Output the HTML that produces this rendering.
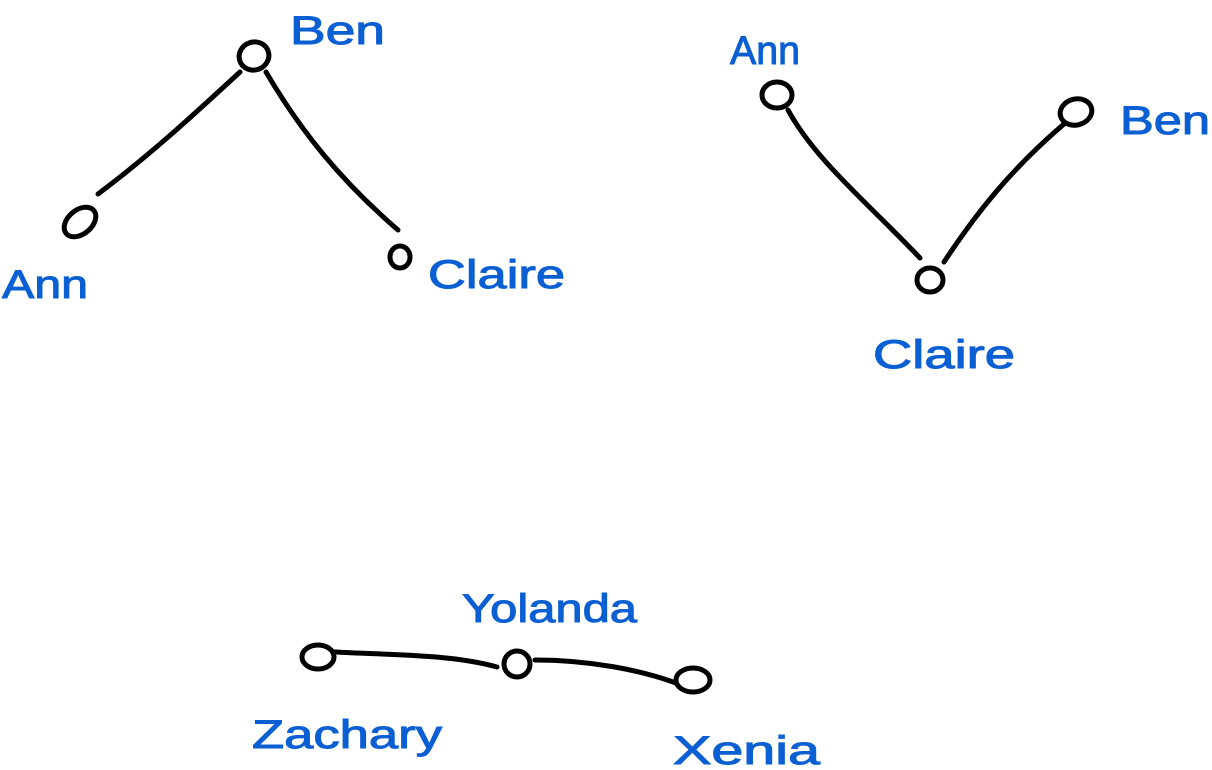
<!DOCTYPE html>
<html><head><meta charset="utf-8"><style>
html,body{margin:0;padding:0;background:#fff;}
svg{display:block;}
text{font-family:"Liberation Sans",sans-serif;fill:#0a5fd2;font-size:40px;stroke:#0a5fd2;stroke-width:1;}
</style></head><body>
<svg width="1212" height="770" viewBox="0 0 1212 770" xmlns="http://www.w3.org/2000/svg">
<g fill="none" stroke="#000" stroke-width="5" stroke-linecap="round" stroke-linejoin="round">
<path d="M98,194 C150,155 190,118 240,72"/>
<path d="M266,72 C300,130 340,180 398,230"/>
<ellipse cx="254" cy="56" rx="15" ry="14" transform="rotate(-20 254 56)"/>
<ellipse cx="80" cy="222" rx="18" ry="12" transform="rotate(-40 80 222)"/>
<ellipse cx="400" cy="257" rx="10" ry="11"/>
<path d="M788,110 C815,160 870,205 920,258"/>
<path d="M944,262 C975,215 1010,170 1064,124"/>
<ellipse cx="777" cy="95" rx="15" ry="13"/>
<ellipse cx="1076" cy="112" rx="16" ry="13" transform="rotate(-15 1076 112)"/>
<ellipse cx="930" cy="280" rx="13" ry="12"/>
<path d="M335,652 C390,655 450,654 497,667"/>
<path d="M535,660 C590,660 640,670 676,683"/>
<ellipse cx="318" cy="657" rx="16" ry="12"/>
<ellipse cx="517" cy="664" rx="13" ry="13"/>
<ellipse cx="693" cy="680" rx="17" ry="12"/>
</g>
<text x="290" y="44" textLength="95" lengthAdjust="spacingAndGlyphs">Ben</text>
<text x="2" y="298" textLength="86" lengthAdjust="spacingAndGlyphs">Ann</text>
<text x="428" y="288" textLength="137" lengthAdjust="spacingAndGlyphs">Claire</text>
<text x="730" y="64" textLength="70" lengthAdjust="spacingAndGlyphs">Ann</text>
<text x="1120" y="134" textLength="90" lengthAdjust="spacingAndGlyphs">Ben</text>
<text x="873" y="368" textLength="142" lengthAdjust="spacingAndGlyphs">Claire</text>
<text x="462" y="622" textLength="175" lengthAdjust="spacingAndGlyphs">Yolanda</text>
<text x="252" y="748" textLength="190" lengthAdjust="spacingAndGlyphs">Zachary</text>
<text x="673" y="764" textLength="147" lengthAdjust="spacingAndGlyphs">Xenia</text>
</svg>
</body></html>
